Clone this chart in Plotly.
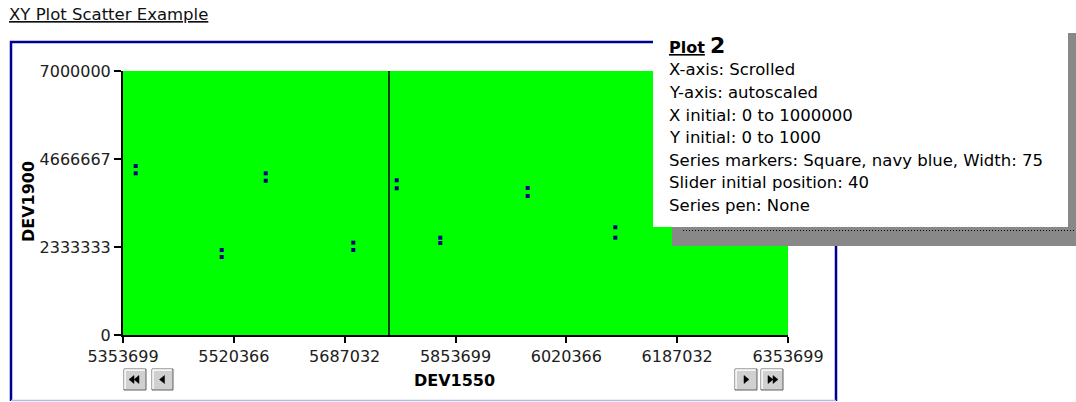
import plotly.graph_objects as go

# data
dev1550 = [5372800, 5568300, 5502100, 5700000, 5765300, 5830800, 5962300, 6094000]
dev1900_a = [4481000, 4287500, 2253800, 2447300, 4101900, 2580000, 3897700, 2855700]
dev1900_b = [4287500, 4091000, 2068200, 2253800, 3889800, 2439400, 3685600, 2580000]

x_ticks = [5353699, 5520366, 5687032, 5853699, 6020366, 6187032, 6353699]
y_ticks = [0, 2333333, 4666667, 7000000]
slider_pos = 5753699  # 40 % of the scrolled window

info_lines = [
    "X-axis: Scrolled",
    "Y-axis: autoscaled",
    "X initial: 0 to 1000000",
    "Y initial: 0 to 1000",
    "Series markers: Square, navy blue, Width: 75",
    "Slider initial position: 40",
    "Series pen: None",
]

W, H = 1076, 402
L, R, T, B = 123, 788, 71, 335
FONT = "DejaVu Sans"


def px(x):
    return (x - L) / (R - L)


def py(y):
    return (B - y) / (B - T)


def path(points, close=True):
    s = "M " + " L ".join(f"{px(x):.5f},{py(y):.5f}" for x, y in points)
    return s + (" Z" if close else "")


fig = go.Figure()
fig.add_trace(go.Scatter(
    x=dev1550 + dev1550, y=dev1900_a + dev1900_b, mode="markers",
    marker=dict(symbol="square", size=4, color="#000080",
                line=dict(width=0)),
    showlegend=False, hoverinfo="skip"))

shapes = []
annotations = []

# slider line
shapes.append(dict(type="line", xref="x", yref="paper", x0=slider_pos, x1=slider_pos,
                   y0=0, y1=1, line=dict(color="black", width=1.5), layer="above"))

# outer frame
shapes.append(dict(type="path", xref="paper", yref="paper",
                   path=path([(11, 401), (11, 42), (836, 42), (836, 401)], close=False),
                   line=dict(color="#000090", width=2.5)))
shapes.append(dict(type="line", xref="paper", yref="paper", x0=px(11), x1=px(836),
                   y0=py(400.5), y1=py(400.5), line=dict(color="#b8b8e0", width=1.5)))

# popup shadow and box
shapes.append(dict(type="rect", xref="paper", yref="paper", x0=px(672), x1=px(1078),
                   y0=py(246), y1=py(33), fillcolor="#888888", line=dict(width=0)))
shapes.append(dict(type="line", xref="paper", yref="paper", x0=px(683), x1=px(1076),
                   y0=py(230.5), y1=py(230.5),
                   line=dict(color="black", width=1, dash="1px,2px")))
shapes.append(dict(type="rect", xref="paper", yref="paper", x0=px(653), x1=px(1068),
                   y0=py(227), y1=py(10), fillcolor="white", line=dict(width=0)))

# scroll buttons
buttons = [(124, 146, "ll"), (152, 173, "l"), (735, 757, "r"), (761, 783, "rr")]
for x0, x1, kind in buttons:
    y0, y1 = 369, 390
    shapes.append(dict(type="rect", xref="paper", yref="paper", x0=px(x0), x1=px(x1),
                       y0=py(y1), y1=py(y0), fillcolor="#d0d0d0",
                       line=dict(color="#606060", width=1)))
    shapes.append(dict(type="path", xref="paper", yref="paper",
                       path=path([(x0 + 1, y1 - 1), (x0 + 1, y0 + 1), (x1 - 1, y0 + 1)], close=False),
                       line=dict(color="white", width=1.5)))
    cx, cy = (x0 + x1) / 2, (y0 + y1) / 2
    if kind == "ll":
        tris = [[(cx - 6, cy), (cx - 1, cy - 4), (cx - 1, cy + 4)],
                [(cx - 1, cy), (cx + 4, cy - 4), (cx + 4, cy + 4)]]
    elif kind == "l":
        tris = [[(cx - 3, cy), (cx + 2, cy - 4), (cx + 2, cy + 4)]]
    elif kind == "r":
        tris = [[(cx + 3, cy), (cx - 2, cy - 4), (cx - 2, cy + 4)]]
    else:
        tris = [[(cx + 6, cy), (cx + 1, cy - 4), (cx + 1, cy + 4)],
                [(cx + 1, cy), (cx - 4, cy - 4), (cx - 4, cy + 4)]]
    for t in tris:
        shapes.append(dict(type="path", xref="paper", yref="paper", path=path(t),
                           fillcolor="black", line=dict(color="black", width=0.5)))

# texts
annotations.append(dict(text="<u>XY Plot Scatter Example</u>", x=px(7), y=py(15),
                        xanchor="left", yanchor="middle",
                        font=dict(family=FONT, size=16.5, color="#101010")))
annotations.append(dict(text="<u><b>Plot</b></u> <b><span style='font-size:22px'>2</span></b>",
                        x=px(667), y=py(45), xanchor="left", yanchor="middle",
                        font=dict(family=FONT, size=16, color="black")))
for i, line in enumerate(info_lines):
    annotations.append(dict(text=line, x=px(667), y=py(70 + i * 22.5),
                            xanchor="left", yanchor="middle",
                            font=dict(family=FONT, size=16.5, color="black")))
annotations.append(dict(text="<b>DEV1550</b>", x=px(454), y=py(380),
                        xanchor="center", yanchor="middle",
                        font=dict(family=FONT, size=16, color="black")))
annotations.append(dict(text="<b>DEV1900</b>", x=px(28), y=py(202), textangle=-90,
                        xanchor="center", yanchor="middle",
                        font=dict(family=FONT, size=16, color="black")))
for a in annotations:
    a.update(xref="paper", yref="paper", showarrow=False)

fig.update_layout(
    width=W, height=H,
    margin=dict(l=L, r=W - R, t=T, b=H - B, pad=0),
    paper_bgcolor="white", plot_bgcolor="#00ff00",
    shapes=shapes, annotations=annotations,
    font=dict(family=FONT, size=16, color="black"),
    xaxis=dict(range=[x_ticks[0], x_ticks[-1]], tickvals=x_ticks,
               ticktext=[str(v) for v in x_ticks],
               showgrid=False, zeroline=False, showline=True, linecolor="black",
               linewidth=2, ticks="outside", ticklen=6, tickwidth=2, tickcolor="black",
               tickfont=dict(family=FONT, size=16, color="#202020")),
    yaxis=dict(range=[y_ticks[0], y_ticks[-1]], tickvals=y_ticks,
               ticktext=[str(v) for v in y_ticks],
               showgrid=False, zeroline=False, showline=True, linecolor="black",
               linewidth=2, ticks="outside", ticklen=7, tickwidth=2, tickcolor="black",
               tickfont=dict(family=FONT, size=16, color="#202020")),
)

# the page body has a default margin; drop it so the figure sits at the window corner
fig.write_html("out.html", config={"displayModeBar": False},
               post_script="document.body.style.margin='0';")
